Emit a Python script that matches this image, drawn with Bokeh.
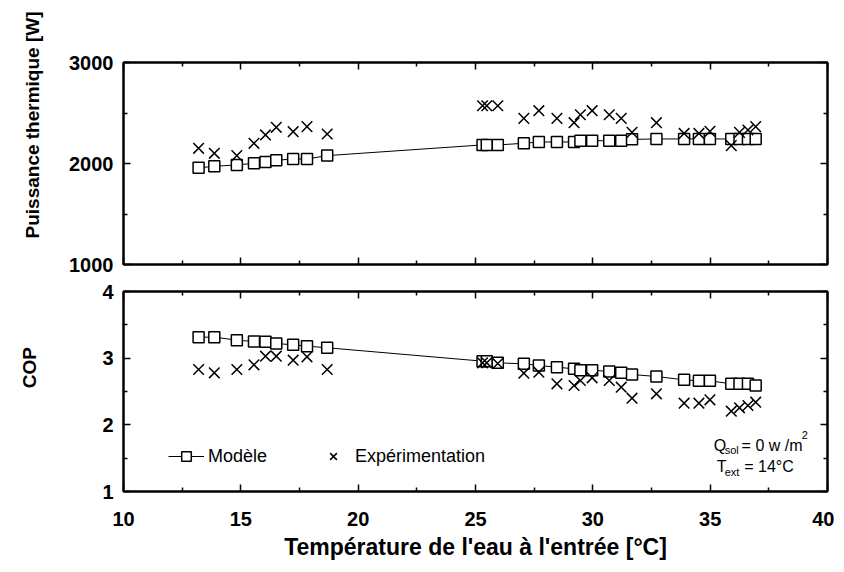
import numpy as np
from bokeh.plotting import figure
from bokeh.layouts import column
from bokeh.models import Range1d, LinearAxis, Label, Legend, LegendItem, FixedTicker, Title
from bokeh.embed import file_html
from bokeh.resources import INLINE

# ---------------- data ----------------
temperature = [13.2, 13.87, 14.83, 15.56, 16.05, 16.51, 17.23, 17.82, 18.68,
               25.3, 25.48, 25.95, 27.06, 27.7, 28.47, 29.2, 29.47, 29.97, 30.7,
               31.21, 31.67, 32.71, 33.89, 34.52, 34.99, 35.9, 36.25, 36.61, 36.94]

puissance_modele = [1957, 1972, 1986, 2002, 2016, 2032, 2045, 2045, 2078,
                    2184, 2184, 2184, 2200, 2213, 2213, 2213, 2226, 2226, 2226,
                    2226, 2239, 2243, 2243, 2243, 2243, 2243, 2243, 2243, 2243]
puissance_exp = [2150, 2101, 2078, 2200, 2283, 2358, 2315, 2365, 2292,
                 2572, 2572, 2572, 2447, 2523, 2447, 2404, 2483, 2523, 2483,
                 2447, 2308, 2404, 2298, 2298, 2318, 2177, 2308, 2332, 2365]

cop_modele = [3.315, 3.315, 3.27, 3.25, 3.246, 3.22, 3.20, 3.18, 3.156,
              2.955, 2.955, 2.93, 2.915, 2.89, 2.865, 2.84, 2.82, 2.82, 2.80,
              2.78, 2.755, 2.725, 2.675, 2.66, 2.66, 2.615, 2.615, 2.615, 2.59]
cop_exp = [2.83, 2.78, 2.83, 2.90, 3.03, 3.03, 2.97, 3.02, 2.83,
           2.93, 2.93, 2.92, 2.775, 2.79, 2.615, 2.59, 2.665, 2.705, 2.665,
           2.565, 2.40, 2.465, 2.325, 2.325, 2.375, 2.205, 2.255, 2.29, 2.34]

x_major = [10, 15, 20, 25, 30, 35, 40]
x_minor = [12.5, 17.5, 22.5, 27.5, 32.5, 37.5]
p_major = [1000, 2000, 3000]
p_minor = [1500, 2500]
c_major = [1, 2, 3, 4]
c_minor = [1.5, 2.5, 3.5]

x_title = "Température de l'eau à l'entrée [°C]"
y_title_top = "Puissance thermique [W]"
y_title_bottom = "COP"
legend_labels = ["Modèle", "Expérimentation"]

FONT = "Liberation Sans"
TICK_SIZE = "20px"
NBSP = "\u00a0"


def style_axis(ax, major, minor, labels=True, standoff=10):
    ax.ticker = FixedTicker(ticks=major, minor_ticks=minor)
    ax.axis_line_color = "black"
    ax.axis_line_width = 2
    ax.major_tick_line_color = "black"
    ax.major_tick_line_width = 1.5
    ax.minor_tick_line_color = "black"
    ax.minor_tick_line_width = 1.5
    ax.major_tick_in = 7
    ax.major_tick_out = 0
    ax.minor_tick_in = 4
    ax.minor_tick_out = 0
    if labels:
        ax.major_label_text_font = FONT
        ax.major_label_text_font_style = "bold"
        ax.major_label_text_font_size = TICK_SIZE
        ax.major_label_text_color = "black"
        ax.major_label_standoff = standoff
    else:
        ax.major_label_text_font_size = "0px"
        ax.major_label_standoff = 0
        ax.major_label_text_color = None


def style_title(ax, text, size, standoff):
    ax.axis_label = text
    ax.axis_label_text_font = FONT
    ax.axis_label_text_font_style = "bold"
    ax.axis_label_text_font_size = size
    ax.axis_label_text_color = "black"
    ax.axis_label_standoff = standoff


def make_fig(yr, ymaj, ymin, top_border, fh, bottom_border, show_x):
    p = figure(x_range=Range1d(10, 40), y_range=yr,
               frame_width=704, frame_height=fh,
               min_border_left=122, min_border_right=8,
               min_border_top=top_border, min_border_bottom=bottom_border,
               output_backend="svg", toolbar_location=None)
    p.xgrid.visible = False
    p.ygrid.visible = False
    p.outline_line_color = "black"
    p.outline_line_width = 2
    p.background_fill_color = "white"
    p.border_fill_color = "white"
    bottom_ax = p.below[0]
    left_ax = p.left[0]
    style_axis(bottom_ax, x_major, x_minor, labels=show_x, standoff=20)
    style_axis(left_ax, ymaj, ymin, labels=True, standoff=10)
    top = LinearAxis()
    style_axis(top, x_major, x_minor, labels=False)
    p.add_layout(top, "above")
    right = LinearAxis()
    style_axis(right, ymaj, ymin, labels=False)
    p.add_layout(right, "right")
    return p, bottom_ax, left_ax


# ---------------- top panel ----------------
p1, p1_x, p1_y = make_fig(Range1d(1000, 3000), p_major, p_minor, 62, 202, 13, False)
p1.line(temperature, puissance_modele, line_color="black", line_width=1)
p1.scatter(temperature, puissance_modele, marker="square", size=11,
           fill_color="white", line_color="black", line_width=1.5)
p1.scatter(temperature, puissance_exp, marker="x", size=15,
           line_color="black", line_width=1.5)
p1.add_layout(Title(text=y_title_top, align="right", vertical_align="top",
                    offset=-51, standoff=43, text_font=FONT,
                    text_font_style="bold", text_font_size="19px",
                    text_color="black"), "left")

# ---------------- bottom panel ----------------
p2, p2_x, p2_y = make_fig(Range1d(1, 4), c_major, c_minor, 14, 200, 72, True)
ln = p2.line(temperature, cop_modele, line_color="black", line_width=1)
sq = p2.scatter(temperature, cop_modele, marker="square", size=11,
                fill_color="white", line_color="black", line_width=1.5)
xr = p2.scatter(temperature, cop_exp, marker="x", size=15,
                line_color="black", line_width=1.5)
style_title(p2_x, x_title, "23px", 5)
# leading no-break spaces shift the centred title upward, as in the original
style_title(p2_y, NBSP * 9 + y_title_bottom, "19px", 59)

legend = Legend(items=[LegendItem(label=legend_labels[0], renderers=[ln, sq]),
                       LegendItem(label=legend_labels[1], renderers=[xr])],
                location=(45, 23), orientation="horizontal",
                glyph_width=36, glyph_height=24, label_height=24,
                label_standoff=4, spacing=48, padding=0, margin=0,
                border_line_color=None, background_fill_alpha=0,
                label_text_font=FONT, label_text_font_size="18px",
                label_text_color="black")
p2.add_layout(legend)

# annotation: Q_sol = 0 w/m^2 ; T_ext = 14°C
def note(x, y, text, size):
    p2.add_layout(Label(x=x, y=y, text=text, text_align="left",
                        text_baseline="alphabetic", text_font=FONT,
                        text_font_size=size, text_color="black"))

note(35.15, 1.691, "Q", "16px")
note(35.62, 1.616, "sol", "11px")
note(36.34, 1.691, "= 0 w /m", "16px")
note(38.90, 1.841, "2", "11px")
note(35.28, 1.376, "T", "16px")
note(35.62, 1.286, "ext", "11px")
note(36.45, 1.376, "= 14°C", "16px")

layout = column(p1, p2)
open("out.html", "w").write(file_html(layout, INLINE))
